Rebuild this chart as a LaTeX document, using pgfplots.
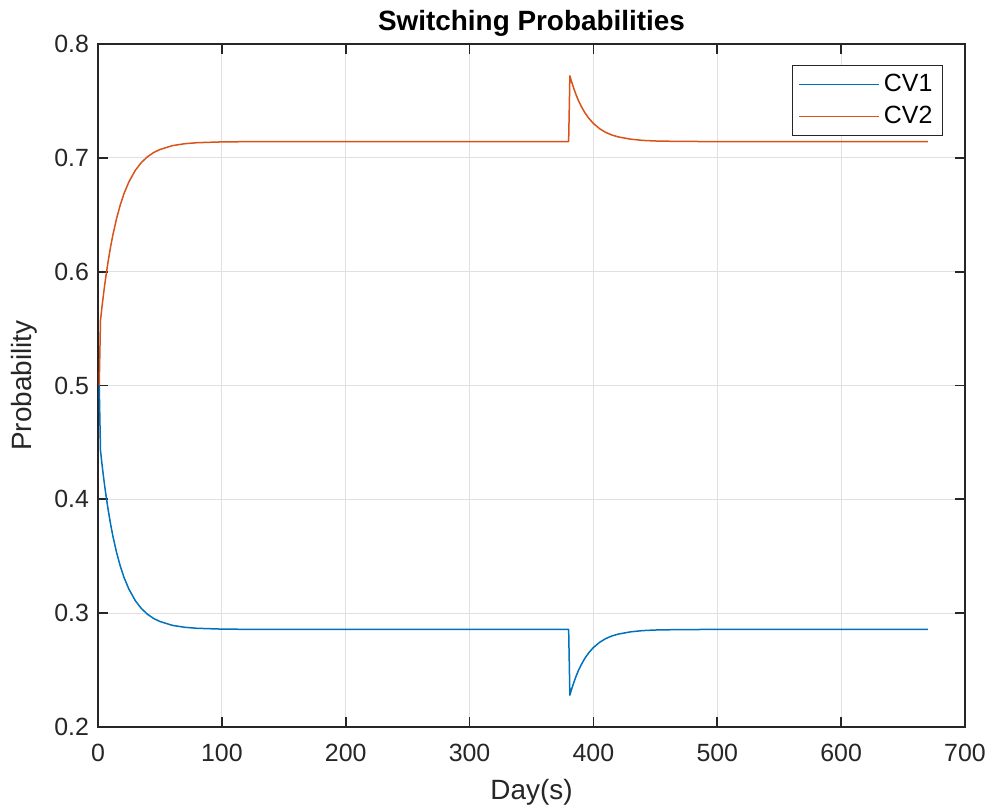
\documentclass[border=0pt]{standalone}
\usepackage{fontspec}
\setmainfont{Liberation Sans}
\usepackage{pgfplots}
\usepackage{pgfplotstable}
\pgfplotsset{compat=1.18}

\definecolor{cvblue}{rgb}{0,0.447,0.741}
\definecolor{cvorange}{rgb}{0.85,0.325,0.098}
\definecolor{axgray}{rgb}{0.15,0.15,0.15}

% day  CV1  CV2
\pgfplotstableread{
day  cvone  cvtwo
1    0.5000 0.5000
2    0.4430 0.5570
3    0.4331 0.5669
4    0.4238 0.5762
5    0.4151 0.5849
6    0.4070 0.5930
8    0.3922 0.6078
10   0.3792 0.6208
12   0.3678 0.6322
15   0.3533 0.6467
18   0.3413 0.6587
21   0.3314 0.6686
25   0.3210 0.6790
30   0.3112 0.6888
35   0.3041 0.6959
40   0.2990 0.7010
45   0.2953 0.7047
50   0.2927 0.7073
60   0.2893 0.7107
70   0.2876 0.7124
80   0.2867 0.7133
100  0.2860 0.7140
120  0.2858 0.7142
150  0.2857 0.7143
380  0.2857 0.7143
381  0.2280 0.7720
382  0.2318 0.7682
384  0.2386 0.7614
386  0.2446 0.7554
388  0.2499 0.7501
390  0.2544 0.7456
393  0.2602 0.7398
396  0.2649 0.7351
400  0.2698 0.7302
405  0.2744 0.7256
410  0.2777 0.7223
415  0.2800 0.7200
420  0.2816 0.7184
430  0.2836 0.7164
440  0.2847 0.7153
450  0.2852 0.7148
470  0.2856 0.7144
500  0.2857 0.7143
670  0.2857 0.7143
}\switchdata

\begin{document}
\begin{tikzpicture}
\begin{axis}[
  at={(0,0)}, anchor=south west,
  scale only axis, width=433.5bp, height=341.5bp,
  xmin=0, xmax=700, ymin=0.2, ymax=0.8,
  xtick={0,100,...,700},
  ytick={0.2,0.3,0.4,0.5,0.6,0.7,0.8},
  yticklabel style={/pgf/number format/fixed, /pgf/number format/fixed zerofill,
    /pgf/number format/precision=1, xshift=-1bp},
  /pgf/number format/assume math mode=true,
  grid=major,
  major grid style={black!12, line width=0.5bp},
  axis line style={axgray, line width=0.9bp},
  tick style={axgray, line width=0.9bp},
  tick align=inside, major tick length=5bp,
  ticklabel style={font=\fontsize{12.5}{14}\selectfont, text=axgray},
  xticklabel style={yshift=-5bp},
  title={\bfseries Switching Probabilities},
  title style={font=\fontsize{14}{16}\selectfont, at={(0.5,1)}, anchor=center, yshift=4.5bp},
  xlabel={Day(s)}, ylabel={Probability},
  label style={font=\fontsize{14}{16}\selectfont, text=axgray},
  xlabel style={yshift=-2bp},
  ylabel style={yshift=1.5bp},
  legend style={at={(rel axis cs:1,1)}, anchor=north east, xshift=-11bp, yshift=-10.5bp,
    draw=axgray, line width=0.6bp, font=\fontsize{12.5}{14}\selectfont,
    inner xsep=3bp, inner ysep=2.5bp, row sep=1.5bp},
  legend cell align=left,
  legend image code/.code={\draw[#1, line width=0.6bp] (0bp,0bp) -- (40bp,0bp);},
]
\addplot[color=cvblue, line width=0.75bp, line join=round, sharp plot] table[x=day, y=cvone] {\switchdata};
\addlegendentry{CV1}
\addplot[color=cvorange, line width=0.75bp, line join=round, sharp plot] table[x=day, y=cvtwo] {\switchdata};
\addlegendentry{CV2}
\end{axis}
\pgfresetboundingbox
\path[use as bounding box] (-49bp,-42bp) rectangle (445.5bp,363.5bp);
\end{tikzpicture}
\end{document}
